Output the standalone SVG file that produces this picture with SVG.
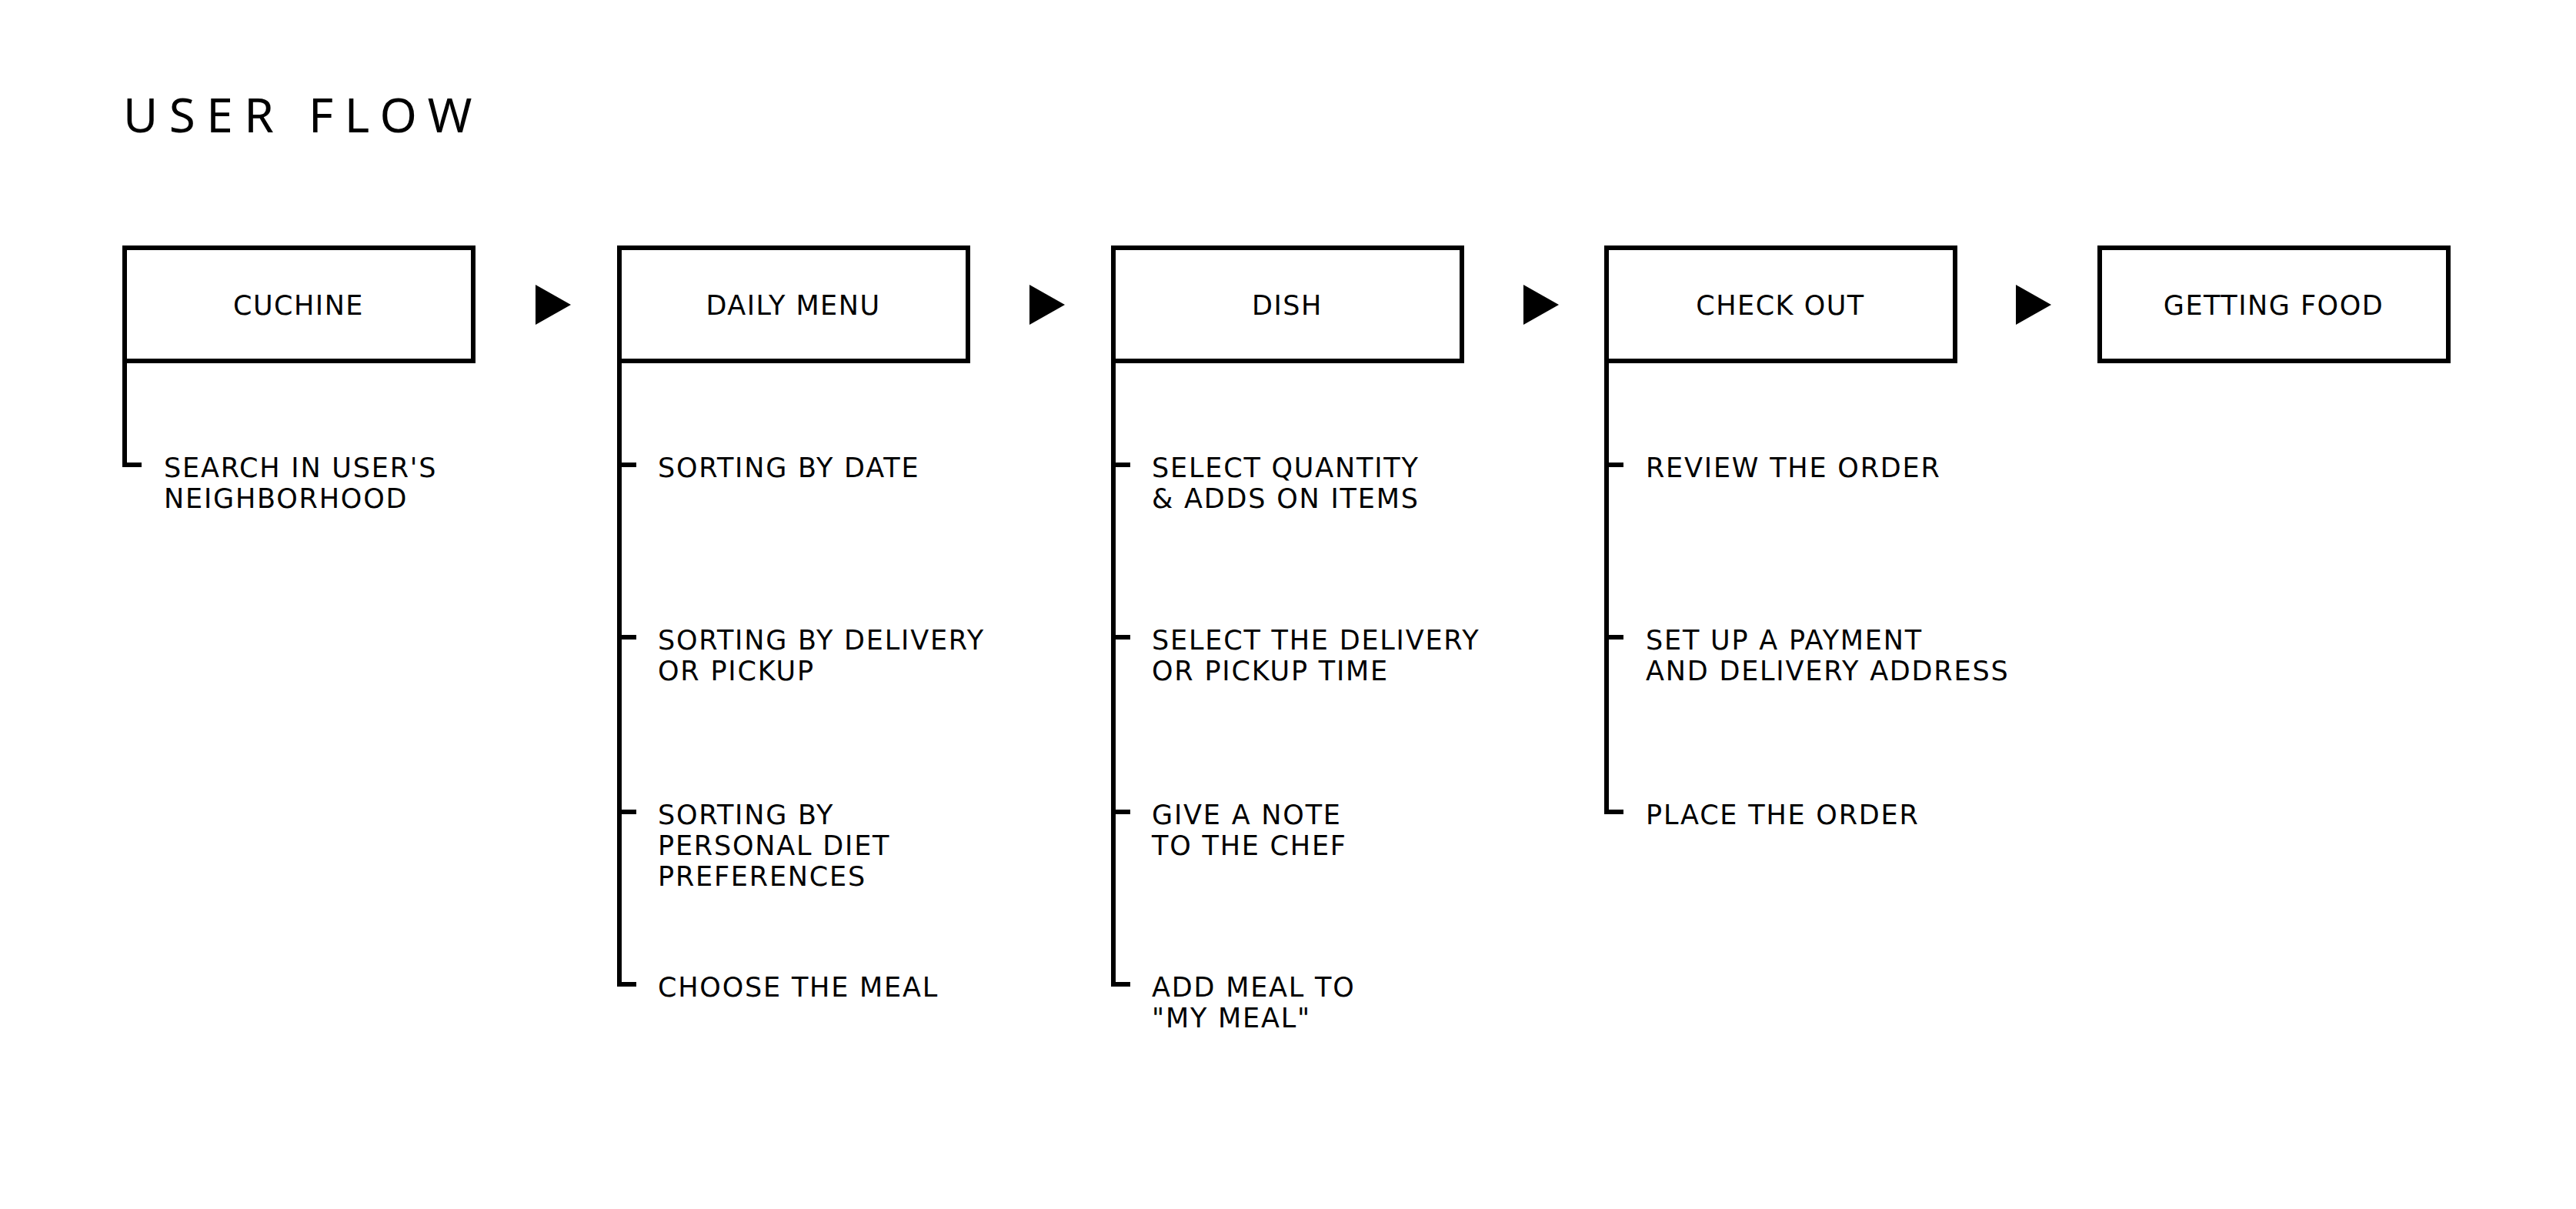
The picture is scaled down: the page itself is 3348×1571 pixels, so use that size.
<svg xmlns="http://www.w3.org/2000/svg" width="3348" height="1571" viewBox="0 0 3348 1571">
<style>
.bg{fill:#fff}
.box{fill:#fff;stroke:#000;stroke-width:6}
.ln{fill:none;stroke:#000;stroke-width:6;stroke-linejoin:miter}
.arr{fill:#000}
.title{font-family:"Noto Sans","Open Sans",sans-serif;font-size:62px;letter-spacing:14.5px;fill:#000}
.lbl{font-family:"DejaVu Sans",sans-serif;font-size:35px;letter-spacing:1.5px;fill:#000;text-anchor:middle}
.item{font-family:"DejaVu Sans",sans-serif;font-size:35px;letter-spacing:1.8px;fill:#000}
</style>
<rect class="bg" x="0" y="0" width="3348" height="1571"/>
<text class="title" x="160" y="172">USER FLOW</text>

<g id="connectors">
  <polygon class="arr" points="696,370 742,396 696,422"/>
  <polygon class="arr" points="1338,370 1384,396 1338,422"/>
  <polygon class="arr" points="1980,370 2026,396 1980,422"/>
  <polygon class="arr" points="2620,370 2666,396 2620,422"/>
  <path class="ln" d="M162 469 V604 H184"/>
  <path class="ln" d="M805 469 V1279 H827 M805 604 H827 M805 828 H827 M805 1055 H827"/>
  <path class="ln" d="M1447 469 V1279 H1469 M1447 604 H1469 M1447 828 H1469 M1447 1055 H1469"/>
  <path class="ln" d="M2088 469 V1055 H2110 M2088 604 H2110 M2088 828 H2110"/>
</g>

<g id="node-cuchine">
  <rect class="box" x="162" y="322" width="453" height="147"/>
  <text class="lbl" x="388" y="409">CUCHINE</text>
</g>
<g id="node-daily-menu">
  <rect class="box" x="805" y="322" width="453" height="147"/>
  <text class="lbl" x="1031" y="409">DAILY MENU</text>
</g>
<g id="node-dish">
  <rect class="box" x="1447" y="322" width="453" height="147"/>
  <text class="lbl" x="1673" y="409">DISH</text>
</g>
<g id="node-check-out">
  <rect class="box" x="2088" y="322" width="453" height="147"/>
  <text class="lbl" x="2314" y="409">CHECK OUT</text>
</g>
<g id="node-getting-food">
  <rect class="box" x="2729" y="322" width="453" height="147"/>
  <text class="lbl" x="2955" y="409">GETTING FOOD</text>
</g>

<g id="items-cuchine">
  <text class="item" x="213" y="620">SEARCH IN USER'S<tspan x="213" dy="40">NEIGHBORHOOD</tspan></text>
</g>
<g id="items-daily-menu">
  <text class="item" x="855" y="620">SORTING BY DATE</text>
  <text class="item" x="855" y="844">SORTING BY DELIVERY<tspan x="855" dy="40">OR PICKUP</tspan></text>
  <text class="item" x="855" y="1071">SORTING BY<tspan x="855" dy="40">PERSONAL DIET</tspan><tspan x="855" dy="40">PREFERENCES</tspan></text>
  <text class="item" x="855" y="1295">CHOOSE THE MEAL</text>
</g>
<g id="items-dish">
  <text class="item" x="1497" y="620">SELECT QUANTITY<tspan x="1497" dy="40">&amp; ADDS ON ITEMS</tspan></text>
  <text class="item" x="1497" y="844">SELECT THE DELIVERY<tspan x="1497" dy="40">OR PICKUP TIME</tspan></text>
  <text class="item" x="1497" y="1071">GIVE A NOTE<tspan x="1497" dy="40">TO THE CHEF</tspan></text>
  <text class="item" x="1497" y="1295">ADD MEAL TO<tspan x="1497" dy="40">"MY MEAL"</tspan></text>
</g>
<g id="items-check-out">
  <text class="item" x="2139" y="620">REVIEW THE ORDER</text>
  <text class="item" x="2139" y="844">SET UP A PAYMENT<tspan x="2139" dy="40">AND DELIVERY ADDRESS</tspan></text>
  <text class="item" x="2139" y="1071">PLACE THE ORDER</text>
</g>
</svg>
